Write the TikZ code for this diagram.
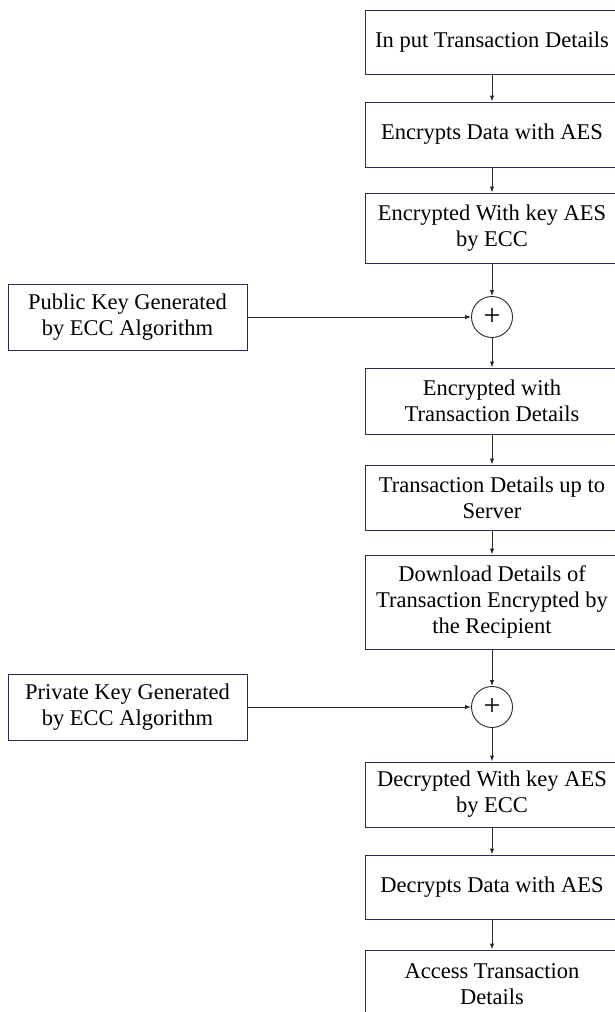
\documentclass[tikz,border=0pt]{standalone}
\usepackage{fontspec}
\setmainfont{Liberation Serif}
\usetikzlibrary{arrows.meta}

\definecolor{boxline}{RGB}{38,44,92}
\definecolor{arrline}{RGB}{40,40,40}

\tikzset{
  stepbox/.style={draw=boxline, line width=1pt, minimum width=254pt, align=center,
    inner sep=2pt, font=\fontsize{22.5}{26}\selectfont},
  keybox/.style={stepbox, minimum width=239pt, minimum height=66pt},
  sumnode/.style={circle, draw=arrline, line width=0.9pt, minimum size=41pt,
    inner sep=0pt, font=\fontsize{30}{30}\selectfont},
  flow/.style={draw=arrline, line width=1pt, -{Latex[length=6pt,width=4.5pt]}}
}

\begin{document}
\begin{tikzpicture}[x=1pt,y=-1pt]
\useasboundingbox (0,0) rectangle (614,1012);

% sender side
\node[stepbox, minimum height=64pt] (input) at (492,42) {In put Transaction Details};
\node[stepbox, minimum height=65pt] (encdata) at (492,134.5) {Encrypts Data with AES};
\node[stepbox, minimum height=70pt] (enckey) at (492,228) {Encrypted With key AES\\by ECC};
\node[sumnode] (sum1) at (492,317) {+};
\node[keybox] (pubkey) at (127.5,317) {Public Key Generated\\by ECC Algorithm};
\node[stepbox, minimum height=66pt] (enctrans) at (492,401) {Encrypted with\\Transaction Details};
\node[stepbox, minimum height=65pt] (server) at (492,497.5) {Transaction Details up to\\Server};

% recipient side
\node[stepbox, minimum height=94pt] (download) at (492,602) {Download Details of\\Transaction Encrypted by\\the Recipient};
\node[sumnode] (sum2) at (492,707) {+};
\node[keybox] (privkey) at (127.5,707) {Private Key Generated\\by ECC Algorithm};
\node[stepbox, minimum height=65pt] (deckey) at (492,794.5) {Decrypted With key AES\\by ECC};
\node[stepbox, minimum height=64pt] (decdata) at (492,887) {Decrypts Data with AES};
\node[stepbox, minimum height=68pt] (access) at (492,984) {Access Transaction\\Details};

\draw[flow] (input) -- (encdata);
\draw[flow] (encdata) -- (enckey);
\draw[flow] (enckey) -- (sum1);
\draw[flow] (pubkey) -- (sum1);
\draw[flow] (sum1) -- (enctrans);
\draw[flow] (enctrans) -- (server);
\draw[flow] (server) -- (download);
\draw[flow] (download) -- (sum2);
\draw[flow] (privkey) -- (sum2);
\draw[flow] (sum2) -- (deckey);
\draw[flow] (deckey) -- (decdata);
\draw[flow] (decdata) -- (access);

\end{tikzpicture}
\end{document}
